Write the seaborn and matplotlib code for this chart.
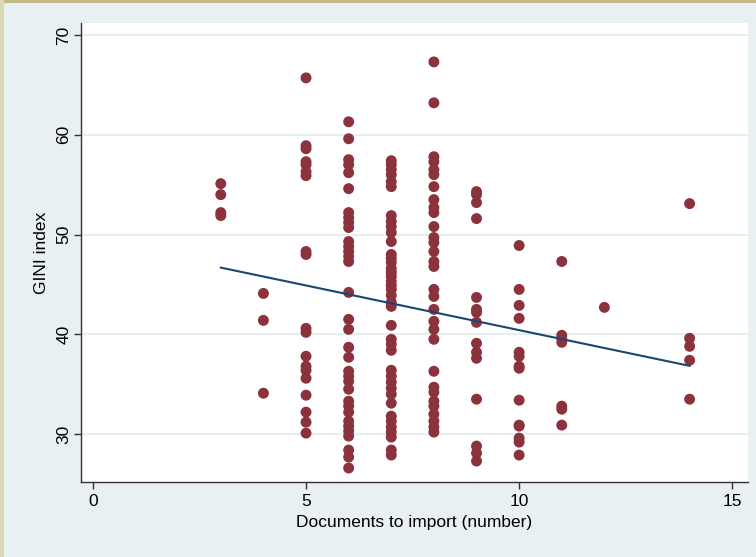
import numpy as np
import pandas as pd
import matplotlib
matplotlib.use("Agg")
import matplotlib.pyplot as plt
from matplotlib.patches import Rectangle
import seaborn as sns

# GINI index of economies grouped by number of documents required to import
gini_docs3 = [55.1, 54.0, 52.2, 51.9]
gini_docs4 = [44.1, 41.4, 34.1]
gini_docs5 = [65.7, 58.9, 58.6, 57.3, 57.0, 56.3, 55.9, 48.3, 48.0, 40.6, 40.2,
              37.8, 36.8, 36.4, 35.6, 33.9, 32.2, 31.2, 30.1]
gini_docs6 = [61.3, 59.6, 57.5, 57.0, 56.2, 54.6, 52.2, 51.7, 51.2, 50.7, 49.3,
              48.8, 48.3, 47.8, 47.3, 44.2, 41.5, 40.5, 38.7, 37.7, 36.3, 35.8,
              35.3, 34.5, 33.3, 32.8, 32.2, 31.3, 30.8, 30.3, 29.8, 28.4, 27.7, 26.6]
gini_docs7 = [57.4, 57.0, 56.5, 56.0, 55.3, 54.8, 51.9, 51.3, 50.8, 50.2, 49.3,
              48.0, 47.6, 47.2, 46.6, 46.2, 45.8, 45.3, 44.9, 44.5, 43.9, 43.2,
              42.8, 40.9, 39.5, 39.0, 38.4, 36.4, 35.8, 35.2, 34.6, 34.0, 33.1,
              31.8, 31.3, 30.7, 30.2, 29.7, 28.4, 27.9]
gini_docs8 = [67.3, 63.2, 57.8, 57.3, 56.5, 56.0, 54.8, 53.5, 52.7, 52.2, 50.8,
              49.7, 49.2, 48.3, 47.3, 46.8, 44.5, 43.8, 42.5, 41.3, 40.5, 39.5,
              36.3, 34.7, 34.2, 33.3, 32.8, 32.0, 31.3, 30.7, 30.2]
gini_docs9 = [54.3, 54.0, 53.2, 51.6, 43.7, 42.5, 42.2, 41.2, 39.1, 38.2, 37.6,
              33.5, 28.8, 28.1, 27.3]
gini_docs10 = [48.9, 44.5, 42.9, 41.6, 38.2, 37.8, 36.8, 36.6, 33.4, 30.9, 30.8,
               29.6, 29.2, 27.9]
gini_docs11 = [47.3, 39.9, 39.6, 39.2, 32.8, 32.5, 30.9]
gini_docs12 = [42.7]
gini_docs14 = [53.1, 39.6, 38.8, 37.4, 33.5]

groups = {3: gini_docs3, 4: gini_docs4, 5: gini_docs5, 6: gini_docs6,
          7: gini_docs7, 8: gini_docs8, 9: gini_docs9, 10: gini_docs10,
          11: gini_docs11, 12: gini_docs12, 14: gini_docs14}

df = pd.DataFrame(
    [(k, v) for k, vals in groups.items() for v in vals],
    columns=["docs", "gini"],
)

x_ticks = [0, 5, 10, 15]
y_ticks = [30, 40, 50, 60, 70]

outer_bg = "#E8F0F2"
dot_color = "#8B323C"
line_color = "#1A476F"

plt.rcParams["font.family"] = ["Liberation Sans", "DejaVu Sans"]

fig = plt.figure(figsize=(7.56, 5.57), dpi=100, facecolor=outer_bg)
# frame strips along the top and left edges
fig.patches.append(Rectangle((0, 1 - 3 / 557), 1, 3 / 557, transform=fig.transFigure,
                             facecolor="#C2B985", edgecolor="none", zorder=0))
fig.patches.append(Rectangle((0, 0), 4 / 756, 1, transform=fig.transFigure,
                             facecolor="#DCD7B4", edgecolor="none", zorder=0))

ax = fig.add_axes([81 / 756, 75 / 557, 667 / 756, 459 / 557])
ax.set_facecolor("white")

sns.scatterplot(data=df, x="docs", y="gini", ax=ax, color=dot_color, s=62,
                linewidth=0, edgecolor="none", zorder=3)
sns.regplot(data=df, x="docs", y="gini", ax=ax, ci=None, scatter=False,
            truncate=True, line_kws={"color": line_color, "lw": 1.5, "zorder": 4})

ax.set_xlim(-0.28, 15.37)
ax.set_ylim(25.2, 71.2)
ax.set_xticks(x_ticks)
ax.set_yticks(y_ticks)
ax.set_xticklabels([str(t) for t in x_ticks], fontsize=12.5)
ax.set_yticklabels([str(t) for t in y_ticks], fontsize=12.5, rotation=90, va="center")

ax.grid(axis="y", color="#E6EEF0", lw=1.5, zorder=0)
ax.grid(axis="x", visible=False)

for side in ["top", "right"]:
    ax.spines[side].set_visible(False)
for side in ["left", "bottom"]:
    ax.spines[side].set_color("#333333")
    ax.spines[side].set_linewidth(1.0)

ax.tick_params(axis="both", direction="out", length=5, width=1.0, color="#333333",
               labelcolor="black")
ax.tick_params(axis="y", pad=2)
ax.tick_params(axis="x", pad=4)

ax.set_xlabel("Documents to import (number)", fontsize=12.5, labelpad=4)
ax.set_ylabel("GINI index", fontsize=12.5, labelpad=5)

fig.savefig("out.png", dpi=100, facecolor=outer_bg)
